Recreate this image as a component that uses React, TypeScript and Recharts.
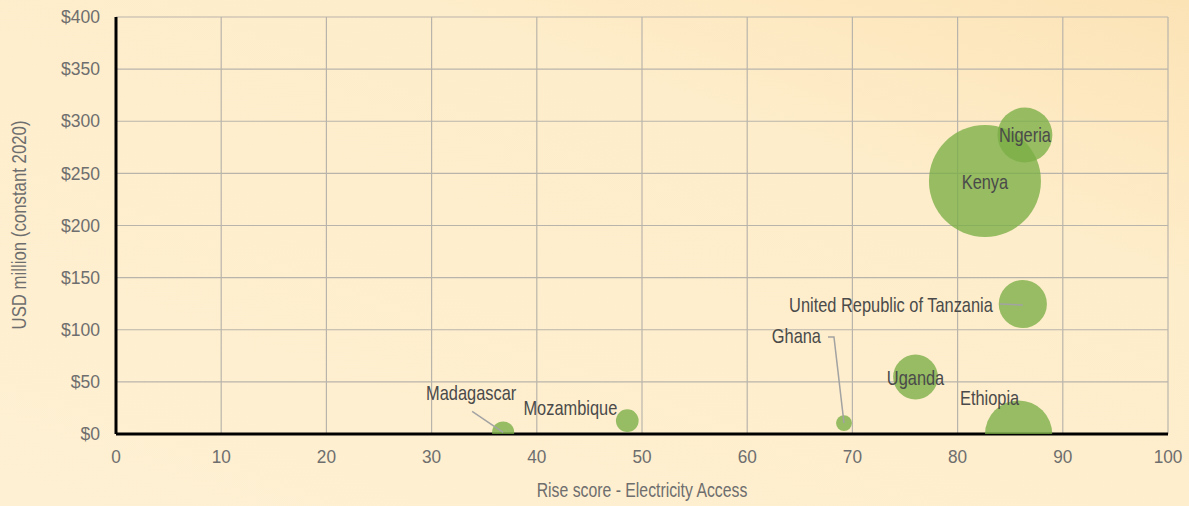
// Rise score vs. funding bubble chart
import { CartesianGrid, Scatter, ScatterChart, XAxis, YAxis, ZAxis } from 'recharts'

const countries = ['Madagascar', 'Mozambique', 'Ghana', 'Uganda', 'Ethiopia', 'United Republic of Tanzania', 'Kenya', 'Nigeria']
const riseScores = [36.8, 48.6, 69.2, 76.0, 85.8, 86.2, 82.6, 86.4]
const fundingUsd = [1.5, 12.8, 10.5, 54.7, 0, 124.7, 242.7, 286.8]
const bubbleSizes = [3.9, 4.1, 2.0, 16, 36, 18.5, 100, 24]

const xTicks = [0, 10, 20, 30, 40, 50, 60, 70, 80, 90, 100]
const yTicks = [0, 50, 100, 150, 200, 250, 300, 350, 400]

const data = countries.map((name, i) => ({ name, x: riseScores[i], y: fundingUsd[i], z: bubbleSizes[i] }))

// label placement relative to bubble centre (anchor + optional leader line)
const labelPlacement: Record<string, { dx: number; dy: number; anchor: 'start' | 'middle' | 'end'; line?: [number, number][] }> = {
  Madagascar: { dx: -32, dy: -40, anchor: 'middle', line: [[-31, -21], [0, 0]] },
  Mozambique: { dx: -10, dy: -13, anchor: 'end' },
  Ghana: { dx: -23, dy: -87, anchor: 'end', line: [[-16, -86], [-10, -86], [0, 0]] },
  Uganda: { dx: 0, dy: 1, anchor: 'middle' },
  Ethiopia: { dx: -29, dy: -36, anchor: 'middle' },
  'United Republic of Tanzania': { dx: -30, dy: 1, anchor: 'end', line: [[-23, 0], [0, 1]] },
  Kenya: { dx: 0, dy: 1, anchor: 'middle' },
  Nigeria: { dx: 0, dy: 0, anchor: 'middle' },
}

const FONT = "'Liberation Sans', Arial, sans-serif"
const TICK = '#6e6e6e'
const INK = '#4a4a4a'

// condensed look: real text, squeezed horizontally
const NarrowText = ({ x, y, scale, size, fill, anchor, dy, rotate, children }: any) => (
  <text
    transform={`translate(${x} ${y})${rotate ? ` rotate(${rotate})` : ''} scale(${scale} 1)`}
    x={0}
    y={0}
    dy={dy}
    textAnchor={anchor}
    dominantBaseline={dy ? undefined : 'central'}
    fill={fill}
    fontSize={size}
    fontFamily={FONT}
  >
    {children}
  </text>
)

const Bubble = (props: any) => {
  const { cx, cy, size } = props
  const r = Math.sqrt(size / Math.PI)
  return <circle cx={cx} cy={cy} r={r} fill="#7aae45" fillOpacity={0.78} />
}

const BubbleLabel = (props: any) => {
  const { cx, cy, payload } = props
  const p = labelPlacement[payload.name]
  if (!p) return null
  return (
    <g>
      {p.line && (
        <polyline
          points={p.line.map(([a, b]) => `${cx + a},${cy + b}`).join(' ')}
          fill="none"
          stroke="#a3a3a3"
          strokeWidth={1.5}
        />
      )}
      <NarrowText x={cx + p.dx} y={cy + p.dy} scale={0.8} size={20.5} fill={INK} anchor={p.anchor}>
        {payload.name}
      </NarrowText>
    </g>
  )
}

const XTick = ({ x, y, payload }: any) => (
  <NarrowText x={x} y={y} scale={0.93} size={18.5} fill={TICK} anchor="middle" dy="0.71em">
    {payload.value}
  </NarrowText>
)

const YTick = ({ x, y, payload }: any) => (
  <NarrowText x={x} y={y} scale={0.95} size={18.5} fill={TICK} anchor="end">
    {`$${payload.value}`}
  </NarrowText>
)

export default function App() {
  return (
    <div
      style={{
        position: 'absolute',
        left: 0,
        top: 0,
        width: 1189,
        height: 506,
        background: 'linear-gradient(200deg, #fce3b6 0%, #feedca 30%, #fef0d3 100%)',
        fontFamily: FONT,
      }}
    >
      <ScatterChart width={1189} height={506} margin={{ top: 17, right: 21, left: 0, bottom: 0 }}>
        <CartesianGrid stroke="#b9b4ab" strokeWidth={1.2} />
        <XAxis
          type="number"
          dataKey="x"
          domain={[0, 100]}
          ticks={xTicks}
          height={72}
          tickLine={false}
          tickSize={0}
          tickMargin={16}
          axisLine={{ stroke: '#000', strokeWidth: 3 }}
          tick={<XTick />}
          label={() => (
            <NarrowText x={642} y={490} scale={0.79} size={20} fill={TICK} anchor="middle">
              Rise score - Electricity Access
            </NarrowText>
          )}
        />
        <YAxis
          type="number"
          dataKey="y"
          domain={[0, 400]}
          ticks={yTicks}
          allowDataOverflow
          width={116}
          tickLine={false}
          tickSize={0}
          tickMargin={16}
          axisLine={{ stroke: '#000', strokeWidth: 3 }}
          tick={<YTick />}
          label={() => (
            <NarrowText x={19} y={225} rotate={-90} scale={0.84} size={20} fill={TICK} anchor="middle">
              USD million (constant 2020)
            </NarrowText>
          )}
        />
        <ZAxis type="number" dataKey="z" domain={[0, 100]} range={[0, 9852]} />
        <Scatter data={data} shape={<Bubble />} isAnimationActive={false} />
        <Scatter data={data} shape={<BubbleLabel />} isAnimationActive={false} />
      </ScatterChart>
    </div>
  )
}
